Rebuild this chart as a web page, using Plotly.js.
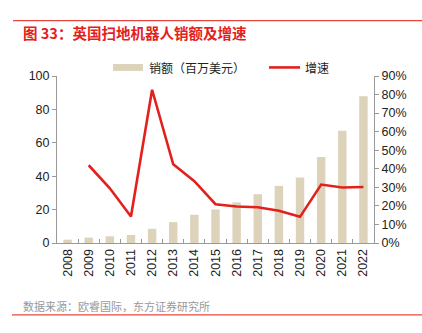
<!DOCTYPE html>
<html><head><meta charset="utf-8">
<script src="https://cdn.plot.ly/plotly-3.0.1.min.js"></script>
<style>html,body{margin:0;padding:0;background:#fff;}#chart{width:422px;height:333px;}</style>
</head><body><div id="chart"></div>
<script>
const years = ['2008','2009','2010','2011','2012','2013','2014','2015','2016','2017','2018','2019','2020','2021','2022'];
const sales = [2.0, 3.2, 4.0, 4.8, 8.5, 12.5, 16.9, 20.1, 24.3, 29.2, 34.2, 39.2, 51.5, 67.2, 87.9];
const growth = [null, 41.9, 29.5, 14.3, 82.6, 42.4, 33.3, 20.9, 19.7, 19.3, 17.4, 14.1, 31.5, 29.9, 30.2];
const seriesNames = ['销额（百万美元）', '增速'];
const leftTicks = [0, 20, 40, 60, 80, 100];
const rightTicks = [0, 10, 20, 30, 40, 50, 60, 70, 80, 90];
const rightTickText = ['0%','10%','20%','30%','40%','50%','60%','70%','80%','90%'];
const titleText = '图 33：英国扫地机器人销额及增速';
const sourceText = '数据来源：欧睿国际，东方证券研究所';

const barColor = '#DDD3BB';
const lineColor = '#E3211C';
const cjk = '"Noto Sans CJK SC", "Liberation Sans", sans-serif';
const num = '"Liberation Sans", Arial, sans-serif';

const W = 422, H = 333;
const L = 57, R = 374, T = 75.6, B = 243.3;
const plotW = R - L, plotH = B - T;
const toPX = x => (x - L) / plotW;
const toPY = y => (B - y) / plotH;

const traces = [
  {type:'bar', x: years, y: sales, name: seriesNames[0], marker:{color: barColor}, width: 0.4, yaxis:'y', showlegend:false, hoverinfo:'skip'},
  {type:'scatter', mode:'lines', x: years, y: growth, name: seriesNames[1], line:{color: lineColor, width: 2.6}, yaxis:'y2', showlegend:false, connectgaps:false, hoverinfo:'skip'}
];

const layout = {
  width: W, height: H,
  margin: {l: L, r: W - R, t: T, b: H - B},
  paper_bgcolor: '#fff', plot_bgcolor: '#fff',
  showlegend: false,
  xaxis: {
    type: 'category', tickangle: -90, tickfont: {family: num, size: 12.5, color: '#222'},
    showline: true, linecolor: '#999', linewidth: 1, ticks: 'inside', tickson: 'boundaries', ticklen: 4, tickcolor: '#999',
    showgrid: false, zeroline: false, fixedrange: true
  },
  yaxis: {
    range: [0, 100], tickmode: 'array', tickvals: leftTicks, tickfont: {family: num, size: 12.5, color: '#222'},
    showline: true, linecolor: '#999', linewidth: 1, ticks: 'outside', ticklen: 4, tickcolor: '#999',
    showgrid: false, zeroline: false
  },
  yaxis2: {
    overlaying: 'y', side: 'right', range: [0, 90], tickmode: 'array', tickvals: rightTicks, ticktext: rightTickText,
    tickfont: {family: num, size: 12.5, color: '#222'},
    showline: true, linecolor: '#999', linewidth: 1, ticks: 'outside', ticklen: 4, tickcolor: '#999',
    showgrid: false, zeroline: false
  },
  shapes: [
    {type:'line', xref:'paper', yref:'paper', x0: toPX(13), x1: toPX(422), y0: toPY(20), y1: toPY(20), line:{color:'#E8463E', width:1.2}},
    {type:'line', xref:'paper', yref:'paper', x0: toPX(12), x1: toPX(422), y0: toPY(315.5), y1: toPY(315.5), line:{color:'#E8463E', width:1.2}},
    {type:'rect', xref:'paper', yref:'paper', x0: toPX(113), x1: toPX(143), y0: toPY(70.5), y1: toPY(63.5), fillcolor: barColor, line:{width:0}},
    {type:'line', xref:'paper', yref:'paper', x0: toPX(269), x1: toPX(300), y0: toPY(67), y1: toPY(67), line:{color: lineColor, width:2.6}}
  ],
  annotations: [
    {xref:'paper', yref:'paper', x: toPX(21), y: toPY(32), xanchor:'left', yanchor:'middle', showarrow:false,
     text: '<b>' + titleText + '</b>', font:{family: cjk, size: 14.5, color:'#E3211C'}},
    {xref:'paper', yref:'paper', x: toPX(147), y: toPY(67), xanchor:'left', yanchor:'middle', showarrow:false,
     text: seriesNames[0], font:{family: cjk, size: 12, color:'#222'}},
    {xref:'paper', yref:'paper', x: toPX(303), y: toPY(67), xanchor:'left', yanchor:'middle', showarrow:false,
     text: seriesNames[1], font:{family: cjk, size: 12, color:'#222'}},
    {xref:'paper', yref:'paper', x: toPX(21), y: toPY(307), xanchor:'left', yanchor:'middle', showarrow:false,
     text: sourceText, font:{family: cjk, size: 11, color:'#999'}}
  ]
};

Plotly.newPlot('chart', traces, layout, {staticPlot: true, displayModeBar: false});
</script></body></html>
